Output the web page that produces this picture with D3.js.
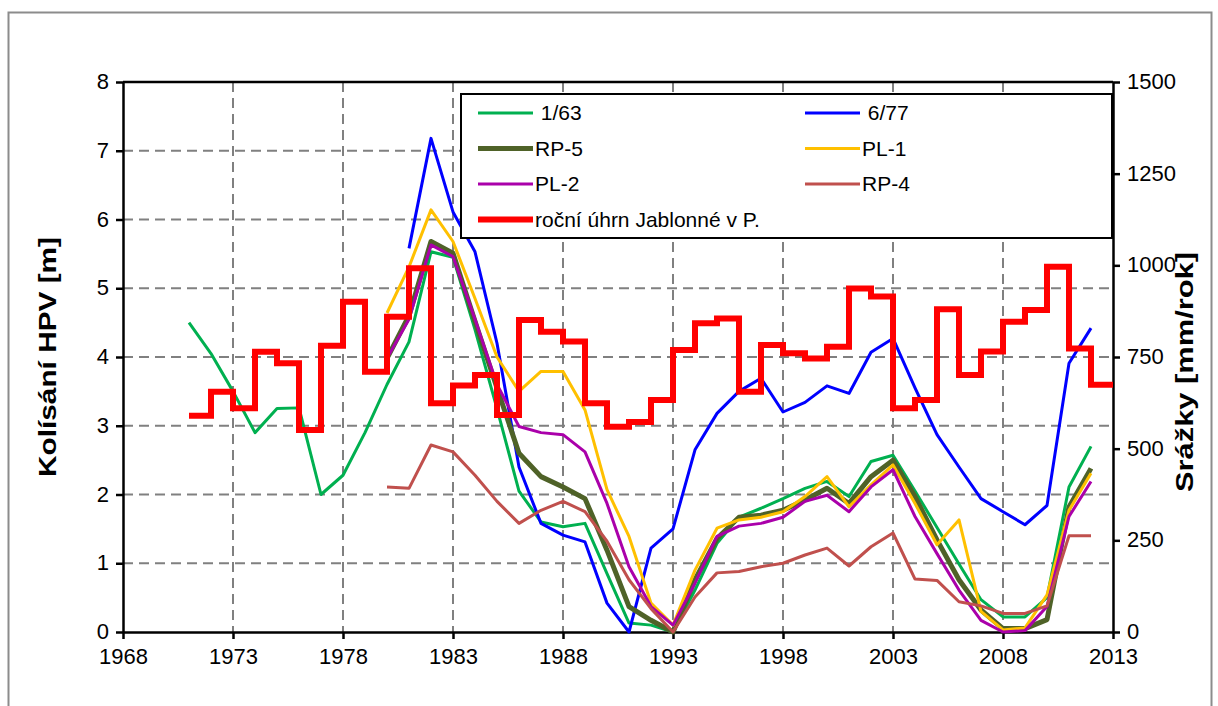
<!DOCTYPE html>
<html>
<head>
<meta charset="utf-8">
<script src="https://cdn.jsdelivr.net/npm/d3@7"></script>
<style>
  body { margin: 0; background: #fff; }
  text { font-family: "Liberation Sans", Arial, sans-serif; }
</style>
</head>
<body>
<div id="chart"></div>
<script>
// Data
var years = d3.range(1971, 2013);

var s163 = [4.5, 4.05, 3.5, 2.9, 3.25, 3.26, 2.0, 2.28, 2.9, 3.6, 4.22, 5.53, 5.45, 4.4, 3.25, 2.05, 1.6, 1.53, 1.58, 0.85,
  0.13, 0.1, 0.0, 0.61, 1.29, 1.67, 1.8, 1.94, 2.09, 2.19, 1.97, 2.48, 2.57, 2.05, 1.52, 0.99, 0.47, 0.22, 0.22, 0.5, 2.11, 2.7];
var s677 = [null, null, null, null, null, null, null, null, null, null, 5.58, 7.18, 6.11, 5.53, 4.2, 2.4, 1.58, 1.41, 1.31, 0.42,
  0.0, 1.22, 1.5, 2.65, 3.18, 3.5, 3.69, 3.2, 3.34, 3.58, 3.47, 4.07, 4.27, 3.55, 2.87, 2.4, 1.94, 1.75, 1.56, 1.84, 3.91, 4.42];
var rp5 = [null, null, null, null, null, null, null, null, null, 3.98, 4.6, 5.68, 5.51, 4.52, 3.55, 2.6, 2.26, 2.11, 1.94, 1.19,
  0.37, 0.17, 0.0, 0.76, 1.36, 1.67, 1.7, 1.77, 1.92, 2.09, 1.87, 2.26, 2.5, 1.97, 1.34, 0.76, 0.32, 0.05, 0.05, 0.18, 1.82, 2.38];
var pl1 = [null, null, null, null, null, null, null, null, null, 4.64, 5.31, 6.14, 5.68, 4.85, 4.0, 3.5, 3.79, 3.79, 3.23, 2.07,
  1.39, 0.42, 0.1, 0.9, 1.51, 1.63, 1.67, 1.75, 1.97, 2.26, 1.82, 2.14, 2.43, 1.87, 1.27, 1.63, 0.3, 0.03, 0.06, 0.54, 1.77, 2.31];
var pl2 = [null, null, null, null, null, null, null, null, null, 3.98, 4.55, 5.63, 5.46, 4.55, 3.6, 2.99, 2.9, 2.87, 2.62, 1.87,
  0.95, 0.37, 0.1, 0.71, 1.39, 1.54, 1.58, 1.67, 1.9, 1.99, 1.75, 2.11, 2.36, 1.68, 1.14, 0.61, 0.17, 0.0, 0.02, 0.37, 1.68, 2.19];
var rp4 = [null, null, null, null, null, null, null, null, null, 2.11, 2.09, 2.72, 2.62, 2.28, 1.9, 1.58, 1.77, 1.9, 1.75, 1.32,
  0.76, 0.34, 0.0, 0.51, 0.86, 0.88, 0.95, 1.0, 1.12, 1.22, 0.96, 1.24, 1.44, 0.77, 0.75, 0.44, 0.38, 0.27, 0.27, 0.38, 1.4, 1.4];
// annual precipitation Jablonné v P. [mm/rok]
var srazky = [590, 655, 610, 764, 733, 551, 781, 901, 710, 860, 992, 624, 672, 701, 592, 851, 819, 792, 624, 560,
  573, 633, 769, 842, 855, 655, 783, 760, 746, 778, 937, 915, 610, 633, 880, 701, 765, 846, 878, 996, 773, 674];

var xTicks = d3.range(1968, 2014, 5);
var yTicks = d3.range(0, 9, 1);
var y2Ticks = d3.range(0, 1501, 250);

var series = [
  { name: " 1/63", values: s163, color: "#00B050", width: 3 },
  { name: " 6/77", values: s677, color: "#0000FF", width: 3 },
  { name: "RP-5", values: rp5, color: "#4F6228", width: 5 },
  { name: "PL-1", values: pl1, color: "#FFC000", width: 3 },
  { name: "PL-2", values: pl2, color: "#AA00AA", width: 3 },
  { name: "RP-4", values: rp4, color: "#C0504D", width: 3 }
];

// Set up chart
var svgWidth = 1218;
var svgHeight = 706;
var chartMargin = { top: 82, right: 105, bottom: 74, left: 123 };
var chartWidth = svgWidth - chartMargin.left - chartMargin.right;
var chartHeight = svgHeight - chartMargin.top - chartMargin.bottom;

var svg = d3.select("#chart")
  .append("svg")
  .attr("width", svgWidth)
  .attr("height", svgHeight);

// outer frame
svg.append("rect")
  .attr("x", 8.5).attr("y", 12.5)
  .attr("width", 1203).attr("height", 705)
  .attr("fill", "none")
  .attr("stroke", "#8c8c8c")
  .attr("stroke-width", 2);

var chartGroup = svg.append("g")
  .attr("transform", `translate(${chartMargin.left}, ${chartMargin.top})`);

var xScale = d3.scaleLinear().domain([1968, 2013]).range([0, chartWidth]);
var yScale = d3.scaleLinear().domain([0, 8]).range([chartHeight, 0]);
var y2Scale = d3.scaleLinear().domain([0, 1500]).range([chartHeight, 0]);

// gridlines
chartGroup.append("g")
  .selectAll("line")
  .data(yTicks.slice(1))
  .enter()
  .append("line")
  .attr("x1", 0).attr("x2", chartWidth)
  .attr("y1", d => yScale(d)).attr("y2", d => yScale(d))
  .attr("stroke", "#808080").attr("stroke-width", 2)
  .attr("stroke-dasharray", "10,6");

chartGroup.append("g")
  .selectAll("line")
  .data(xTicks.slice(1, -1))
  .enter()
  .append("line")
  .attr("x1", d => xScale(d)).attr("x2", d => xScale(d))
  .attr("y1", 0).attr("y2", chartHeight)
  .attr("stroke", "#808080").attr("stroke-width", 2)
  .attr("stroke-dasharray", "10,6");

// axes
var bottomAxis = d3.axisBottom(xScale).tickValues(xTicks).tickFormat(d3.format("d")).tickSize(7).tickSizeOuter(0);
var leftAxis = d3.axisLeft(yScale).tickValues(yTicks).tickSize(7).tickSizeOuter(0);
var rightAxis = d3.axisRight(y2Scale).tickValues(y2Ticks).tickFormat(d3.format("d")).tickSize(7).tickSizeOuter(0);

var xAxis = chartGroup.append("g")
  .attr("transform", `translate(0, ${chartHeight})`)
  .call(bottomAxis);
var yAxis = chartGroup.append("g").call(leftAxis);
var y2Axis = chartGroup.append("g")
  .attr("transform", `translate(${chartWidth}, 0)`)
  .call(rightAxis);

[xAxis, yAxis, y2Axis].forEach(function(ax) {
  ax.selectAll("path, line").attr("stroke", "#000").attr("stroke-width", 2.5);
  ax.selectAll("text").attr("fill", "#000").style("font-size", "22px");
});
xAxis.selectAll("text").attr("dy", "1.02em");
yAxis.selectAll("text").attr("x", -14).attr("dy", "0.3em");
y2Axis.selectAll("text").attr("x", 14).attr("dy", "0.3em");

// top border of the plot area
chartGroup.append("line")
  .attr("x1", 0).attr("x2", chartWidth)
  .attr("y1", 0).attr("y2", 0)
  .attr("stroke", "#000").attr("stroke-width", 2.5);

// lines
var line = d3.line()
  .defined(d => d.v != null)
  .x(d => xScale(d.year))
  .y(d => yScale(d.v));

series.forEach(function(s) {
  chartGroup.append("path")
    .datum(years.map((yr, i) => ({ year: yr, v: s.values[i] })))
    .attr("fill", "none")
    .attr("stroke", s.color)
    .attr("stroke-width", s.width)
    .attr("stroke-linejoin", "round")
    .attr("d", line);
});

// precipitation as step line on right axis
var stepData = years.map((yr, i) => ({ year: yr, v: srazky[i] }));
stepData.push({ year: 2013, v: srazky[srazky.length - 1] });

var stepLine = d3.line()
  .curve(d3.curveStepAfter)
  .x(d => xScale(d.year))
  .y(d => y2Scale(d.v));

chartGroup.append("path")
  .datum(stepData)
  .attr("fill", "none")
  .attr("stroke", "#FF0000")
  .attr("stroke-width", 6)
  .attr("stroke-linejoin", "miter")
  .attr("d", stepLine);

// axis titles (stretched along their length like the original)
svg.append("text")
  .attr("transform", "translate(56, 357) rotate(-90)")
  .attr("text-anchor", "middle")
  .attr("textLength", 240)
  .attr("lengthAdjust", "spacingAndGlyphs")
  .style("font-size", "23px")
  .style("font-weight", "bold")
  .text("Kolísání HPV [m]");

svg.append("text")
  .attr("transform", "translate(1193, 372) rotate(-90)")
  .attr("text-anchor", "middle")
  .attr("textLength", 240)
  .attr("lengthAdjust", "spacingAndGlyphs")
  .style("font-size", "23px")
  .style("font-weight", "bold")
  .text("Srážky [mm/rok]");

// legend
var legend = svg.append("g");
legend.append("rect")
  .attr("x", 461).attr("y", 94)
  .attr("width", 651).attr("height", 144)
  .attr("fill", "#fff")
  .attr("stroke", "#000")
  .attr("stroke-width", 2);

var legendItems = series.map(s => ({ name: s.name, color: s.color, width: s.width }))
  .concat([{ name: "roční úhrn Jablonné v P.", color: "#FF0000", width: 6 }]);

legendItems.forEach(function(d, i) {
  var col = i % 2;
  var row = Math.floor(i / 2);
  var lx = col === 0 ? 478 : 805;
  var ly = 113 + row * 35.5;
  legend.append("line")
    .attr("x1", lx).attr("x2", lx + 55)
    .attr("y1", ly).attr("y2", ly)
    .attr("stroke", d.color)
    .attr("stroke-width", d.width);
  legend.append("text")
    .attr("x", lx + 57)
    .attr("y", ly)
    .attr("dy", "0.35em")
    .style("font-size", "21px")
    .style("white-space", "pre")
    .attr("xml:space", "preserve")
    .text(d.name);
});
</script>
</body>
</html>
